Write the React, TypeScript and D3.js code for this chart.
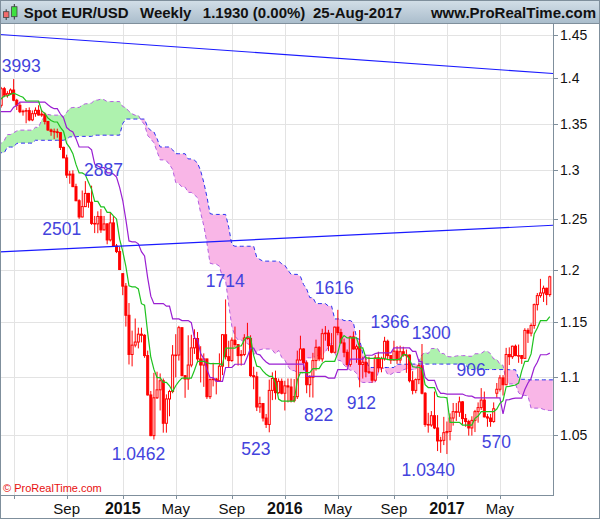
import React from 'react';
import * as d3 from 'd3';

// ---------- data ----------
const firstWeekUTC = Date.UTC(2014, 3, 7); // Monday of first weekly candle

// weekly highs / lows before the visible range (Oct-15-2012 .. Mar-31-2014), used only for the Ichimoku lines
const preHigh = [
  1.3140, 1.3070, 1.3010, 1.2880, 1.2800, 1.2990, 1.3015, 1.3125, 1.3165, 1.3310, 1.3270, 1.3300,
  1.3400, 1.3405, 1.3480, 1.3711, 1.3710, 1.3480, 1.3440, 1.3230, 1.3130, 1.3100, 1.3000, 1.3050,
  1.3000, 1.3205, 1.3245, 1.3100, 1.3245, 1.3240, 1.3000, 1.2995, 1.3105, 1.3305, 1.3390, 1.3416,
  1.3180, 1.3080, 1.3205, 1.3180, 1.3300, 1.3345, 1.3400, 1.3400, 1.3450, 1.3395, 1.3220, 1.3340,
  1.3570, 1.3570, 1.3645, 1.3590, 1.3705, 1.3832, 1.3820, 1.3525, 1.3500, 1.3575, 1.3620, 1.3710,
  1.3810, 1.3810, 1.3893, 1.3830, 1.3690, 1.3700, 1.3740, 1.3700, 1.3620, 1.3715, 1.3775, 1.3825,
  1.3915, 1.3967, 1.3920, 1.3880, 1.3810,
];
const preLow = [
  1.2950, 1.2880, 1.2800, 1.2700, 1.2661, 1.2740, 1.2875, 1.2875, 1.2935, 1.3150, 1.3180, 1.2995,
  1.3000, 1.3255, 1.3250, 1.3405, 1.3360, 1.3305, 1.3145, 1.2965, 1.2955, 1.2930, 1.2840, 1.2750,
  1.2745, 1.2955, 1.3000, 1.2950, 1.3030, 1.2955, 1.2795, 1.2840, 1.2830, 1.3000, 1.3240, 1.3100,
  1.2990, 1.2805, 1.2755, 1.3010, 1.3145, 1.3165, 1.3230, 1.3220, 1.3310, 1.3165, 1.3105, 1.3180,
  1.3260, 1.3445, 1.3470, 1.3480, 1.3480, 1.3670, 1.3440, 1.3295, 1.3365, 1.3400, 1.3540, 1.3535,
  1.3700, 1.3625, 1.3650, 1.3570, 1.3550, 1.3525, 1.3510, 1.3480, 1.3477, 1.3580, 1.3640, 1.3640,
  1.3740, 1.3825, 1.3750, 1.3705, 1.3675,
];

// visible weekly candles, Apr-07-2014 .. Aug-21-2017
const open = [
  1.3700, 1.3885, 1.3813, 1.3830, 1.3870, 1.3756, 1.3700, 1.3630, 1.3635, 1.3642,
  1.3540, 1.3608, 1.3645, 1.3593, 1.3603, 1.3523, 1.3430, 1.3415, 1.3410, 1.3402,
  1.3243, 1.3131, 1.2950, 1.2960, 1.2830, 1.2685, 1.2520, 1.2625, 1.2760, 1.2670,
  1.2455, 1.2450, 1.2525, 1.2390, 1.2450, 1.2290, 1.2460, 1.2230, 1.2175, 1.1960,
  1.1840, 1.1565, 1.1205, 1.1290, 1.1318, 1.1390, 1.1380, 1.1195, 1.0845, 1.0495,
  1.0820, 1.0890, 1.0970, 1.0600, 1.0810, 1.0875, 1.1200, 1.1200, 1.1450, 1.1015,
  1.0985, 1.1110, 1.1265, 1.1350, 1.1165, 1.1110, 1.1165, 1.0830, 1.0980, 1.0985,
  1.0970, 1.1100, 1.1385, 1.1185, 1.1150, 1.1335, 1.1295, 1.1195, 1.1205, 1.1355,
  1.1350, 1.1015, 1.1005, 1.0740, 1.0770, 1.0645, 1.0590, 1.0885, 1.0990, 1.0865,
  1.0965, 1.0860, 1.0925, 1.0915, 1.0795, 1.0830, 1.1155, 1.1255, 1.1130, 1.0935,
  1.1000, 1.1150, 1.1270, 1.1165, 1.1395, 1.1400, 1.1285, 1.1225, 1.1455, 1.1405,
  1.1310, 1.1225, 1.1115, 1.1365, 1.1255, 1.1275, 1.1115, 1.1135, 1.1050, 1.1045,
  1.0975, 1.1175, 1.1085, 1.1165, 1.1325, 1.1195, 1.1155, 1.1235, 1.1155, 1.1230,
  1.1200, 1.1200, 1.0970, 1.0885, 1.0980, 1.1105, 1.0860, 1.0590, 1.0585, 1.0665,
  1.0560, 1.0450, 1.0455, 1.0520, 1.0530, 1.0645, 1.0700, 1.0695, 1.0785, 1.0640,
  1.0615, 1.0560, 1.0625, 1.0700, 1.0735, 1.0800, 1.0655, 1.0645, 1.0615, 1.0860,
  1.0895, 1.0995, 1.0935, 1.1205, 1.1185, 1.1280, 1.1195, 1.1195, 1.1170, 1.1425,
  1.1400, 1.1470, 1.1665, 1.1750, 1.1775, 1.1820, 1.1760,
];
const high = [
  1.3905, 1.3905, 1.3857, 1.3888, 1.3993, 1.3772, 1.3733, 1.3652, 1.3670, 1.3677,
  1.3644, 1.3677, 1.3701, 1.3650, 1.3620, 1.3526, 1.3445, 1.3445, 1.3444, 1.3405,
  1.3250, 1.3165, 1.2994, 1.3000, 1.2860, 1.2700, 1.2790, 1.2887, 1.2765, 1.2840,
  1.2530, 1.2577, 1.2600, 1.2530, 1.2456, 1.2570, 1.2530, 1.2250, 1.2220, 1.1965,
  1.1870, 1.1680, 1.1423, 1.1535, 1.1450, 1.1450, 1.1390, 1.1240, 1.0880, 1.1040,
  1.1050, 1.1035, 1.0990, 1.0850, 1.0890, 1.1290, 1.1390, 1.1467, 1.1450, 1.1020,
  1.1380, 1.1385, 1.1435, 1.1410, 1.1280, 1.1215, 1.1165, 1.0990, 1.1130, 1.0995,
  1.1215, 1.1390, 1.1714, 1.1330, 1.1360, 1.1460, 1.1295, 1.1245, 1.1390, 1.1495,
  1.1380, 1.1095, 1.1050, 1.0830, 1.0775, 1.0680, 1.0980, 1.1045, 1.1060, 1.0990,
  1.0990, 1.0970, 1.0990, 1.0990, 1.0985, 1.1240, 1.1376, 1.1260, 1.1150, 1.1020,
  1.1220, 1.1340, 1.1280, 1.1440, 1.1465, 1.1430, 1.1400, 1.1460, 1.1616, 1.1440,
  1.1350, 1.1250, 1.1375, 1.1415, 1.1295, 1.1428, 1.1185, 1.1185, 1.1185, 1.1050,
  1.1200, 1.1230, 1.1185, 1.1366, 1.1340, 1.1200, 1.1330, 1.1280, 1.1285, 1.1275,
  1.1250, 1.1205, 1.1055, 1.0990, 1.1125, 1.1300, 1.0870, 1.0690, 1.0705, 1.0875,
  1.0670, 1.0485, 1.0655, 1.0615, 1.0685, 1.0775, 1.0775, 1.0830, 1.0790, 1.0680,
  1.0630, 1.0660, 1.0715, 1.0780, 1.0905, 1.0875, 1.0680, 1.0680, 1.0780, 1.0950,
  1.1020, 1.1020, 1.1265, 1.1270, 1.1285, 1.1295, 1.1295, 1.1200, 1.1445, 1.1445,
  1.1490, 1.1675, 1.1775, 1.1910, 1.1845, 1.1825, 1.1940,
];
const low = [
  1.3675, 1.3790, 1.3785, 1.3815, 1.3745, 1.3648, 1.3614, 1.3586, 1.3503, 1.3525,
  1.3526, 1.3574, 1.3588, 1.3573, 1.3490, 1.3420, 1.3367, 1.3333, 1.3347, 1.3215,
  1.3130, 1.2920, 1.2860, 1.2825, 1.2680, 1.2501, 1.2515, 1.2620, 1.2613, 1.2440,
  1.2358, 1.2357, 1.2360, 1.2385, 1.2247, 1.2275, 1.2220, 1.2160, 1.1995, 1.1754,
  1.1460, 1.1115, 1.1098, 1.1270, 1.1260, 1.1315, 1.1175, 1.0840, 1.0490, 1.0462,
  1.0810, 1.0710, 1.0520, 1.0520, 1.0660, 1.0860, 1.1000, 1.1150, 1.1010, 1.0820,
  1.0890, 1.1090, 1.1210, 1.1130, 1.0955, 1.0916, 1.0810, 1.0810, 1.0920, 1.0850,
  1.0960, 1.1020, 1.1160, 1.1085, 1.1140, 1.1270, 1.1105, 1.1105, 1.1190, 1.1340,
  1.1005, 1.0895, 1.0705, 1.0690, 1.0615, 1.0560, 1.0523, 1.0800, 1.0805, 1.0855,
  1.0850, 1.0710, 1.0780, 1.0780, 1.0780, 1.0810, 1.1150, 1.1065, 1.0860, 1.0825,
  1.0822, 1.1060, 1.1145, 1.1140, 1.1330, 1.1235, 1.1215, 1.1215, 1.1380, 1.1305,
  1.1180, 1.1095, 1.1095, 1.1250, 1.1130, 1.0912, 1.0990, 1.1000, 1.1030, 1.0952,
  1.0965, 1.1045, 1.1045, 1.1150, 1.1160, 1.1120, 1.1150, 1.1120, 1.1125, 1.1185,
  1.1040, 1.0955, 1.0850, 1.0860, 1.0940, 1.0850, 1.0570, 1.0520, 1.0570, 1.0550,
  1.0365, 1.0350, 1.0415, 1.0340, 1.0455, 1.0580, 1.0620, 1.0655, 1.0590, 1.0570,
  1.0495, 1.0495, 1.0525, 1.0605, 1.0715, 1.0650, 1.0570, 1.0570, 1.0605, 1.0820,
  1.0875, 1.0840, 1.0930, 1.1110, 1.1165, 1.1190, 1.1130, 1.1120, 1.1165, 1.1310,
  1.1370, 1.1440, 1.1610, 1.1730, 1.1690, 1.1660, 1.1740,
];
const close = [
  1.3885, 1.3813, 1.3830, 1.3870, 1.3756, 1.3700, 1.3630, 1.3635, 1.3642, 1.3540,
  1.3608, 1.3645, 1.3593, 1.3603, 1.3523, 1.3430, 1.3415, 1.3410, 1.3402, 1.3243,
  1.3131, 1.2950, 1.2960, 1.2830, 1.2685, 1.2520, 1.2625, 1.2760, 1.2670, 1.2455,
  1.2450, 1.2525, 1.2390, 1.2450, 1.2290, 1.2460, 1.2230, 1.2175, 1.2000, 1.1840,
  1.1565, 1.1205, 1.1290, 1.1318, 1.1390, 1.1380, 1.1195, 1.0845, 1.0495, 1.0820,
  1.0890, 1.0970, 1.0600, 1.0810, 1.0875, 1.1200, 1.1200, 1.1450, 1.1015, 1.0985,
  1.1110, 1.1265, 1.1350, 1.1165, 1.1110, 1.1165, 1.0830, 1.0980, 1.0985, 1.0970,
  1.1100, 1.1385, 1.1185, 1.1150, 1.1335, 1.1295, 1.1195, 1.1205, 1.1355, 1.1350,
  1.1015, 1.1005, 1.0740, 1.0770, 1.0645, 1.0590, 1.0885, 1.0990, 1.0865, 1.0965,
  1.0860, 1.0925, 1.0915, 1.0795, 1.0830, 1.1155, 1.1255, 1.1130, 1.0935, 1.1000,
  1.1150, 1.1270, 1.1165, 1.1395, 1.1400, 1.1285, 1.1225, 1.1455, 1.1405, 1.1310,
  1.1225, 1.1115, 1.1365, 1.1255, 1.1275, 1.1115, 1.1135, 1.1050, 1.1045, 1.0975,
  1.1175, 1.1085, 1.1165, 1.1325, 1.1195, 1.1155, 1.1235, 1.1155, 1.1230, 1.1200,
  1.1200, 1.0970, 1.0885, 1.0980, 1.1105, 1.0860, 1.0590, 1.0585, 1.0665, 1.0560,
  1.0450, 1.0455, 1.0520, 1.0530, 1.0645, 1.0700, 1.0695, 1.0785, 1.0640, 1.0615,
  1.0560, 1.0625, 1.0700, 1.0735, 1.0800, 1.0655, 1.0645, 1.0615, 1.0725, 1.0895,
  1.0995, 1.0935, 1.1205, 1.1185, 1.1280, 1.1195, 1.1195, 1.1170, 1.1425, 1.1400,
  1.1470, 1.1665, 1.1750, 1.1775, 1.1820, 1.1760, 1.1930,
];

const priceTicks = [1.05, 1.1, 1.15, 1.2, 1.25, 1.3, 1.35, 1.4, 1.45];
const tickMonths = [0, 4, 8];
const monthNames = ['Jan', 'Feb', 'Mar', 'Apr', 'May', 'Jun', 'Jul', 'Aug', 'Sep', 'Oct', 'Nov', 'Dec'];

// swing-point annotations: text, week position, price position
const noteText = ['3993', '2887', '2501', '1714', '1616', '1366', '1300', '906', '570', '1.0462', '523', '822', '912', '1.0340'];
const noteWeek = [6.42, 32.83, 19.45, 71.9, 106.84, 124.74, 137.99, 150.79, 158.84, 44.05, 81.69, 101.87, 115.53, 137.03];
const notePrice = [1.4077, 1.2941, 1.2339, 1.1829, 1.1765, 1.1444, 1.1346, 1.1012, 1.0388, 1.029, 1.0332, 1.0619, 1.0723, 1.0158];

// trend lines: price at left edge / right edge
const trendLeft = [1.4506, 1.2172];
const trendRight = [1.4056, 1.2436];

const headerItems = ['Spot EUR/USD', 'Weekly', '1.1930 (0.00%)', '25-Aug-2017'];

// ---------- layout ----------
const W = 600, H = 519;
const PL = 0, PR = 553, PT = 24, PB = 495;
const FONT = '"Liberation Sans", Arial, Helvetica, sans-serif';
const RED = '#ff0000';
const FRAME = '#7f8f9c';

export default function App() {
  const n = close.length;
  const weeks = d3.range(n).map((i) => new Date(firstWeekUTC + i * 7 * 864e5));
  const x = d3.scaleLinear().domain([-0.38, 177.03]).range([PL, PR]);
  const y = d3.scaleLog().domain([1.0004, 1.4629]).range([PB, PT]);

  const allH = preHigh.concat(high);
  const allL = preLow.concat(low);
  const N0 = preHigh.length;
  const mid = (g: number, len: number) => {
    const s = Math.max(0, g - len + 1);
    return ((d3.max(allH.slice(s, g + 1)) as number) + (d3.min(allL.slice(s, g + 1)) as number)) / 2;
  };

  const tenkan: { m: number; v: number }[] = [];
  const kijun: { m: number; v: number }[] = [];
  for (let m = -1; m < n; m++) {
    const g = m + N0;
    tenkan.push({ m, v: mid(g, 9) });
    kijun.push({ m, v: mid(g, 26) });
  }
  const cloud: { m: number; a: number; b: number }[] = [];
  for (let m = -1; m <= n; m++) {
    const g = m + N0 - 26;
    cloud.push({ m, a: (mid(g, 9) + mid(g, 26)) / 2, b: mid(g, 52) });
  }

  const line = d3.line<{ m: number; v: number }>().x((d) => x(d.m)).y((d) => y(d.v));
  const band = d3.area<{ m: number; a: number; b: number }>().x((d) => x(d.m)).y0((d) => y(d.b)).y1((d) => y(d.a))(cloud) || '';
  const aboveB = d3.area<{ m: number; a: number; b: number }>().x((d) => x(d.m)).y0((d) => y(d.b)).y1(0)(cloud) || '';
  const belowB = d3.area<{ m: number; a: number; b: number }>().x((d) => x(d.m)).y0((d) => y(d.b)).y1(H)(cloud) || '';
  const spanA = d3.line<{ m: number; a: number; b: number }>().x((d) => x(d.m)).y((d) => y(d.a))(cloud) || '';
  const spanB = d3.line<{ m: number; a: number; b: number }>().x((d) => x(d.m)).y((d) => y(d.b))(cloud) || '';

  const monthTicks = weeks
    .map((d, i) => ({ d, i }))
    .filter(({ d }) => tickMonths.includes(d.getUTCMonth()) && d.getUTCDate() <= 7);

  const [d0, d1] = x.domain();

  return (
    <div style={{ position: 'absolute', left: 0, top: 0 }}>
      <svg width={W} height={H} style={{ display: 'block', fontFamily: FONT }}>
        <defs>
          <linearGradient id="hdr" x1="0" y1="0" x2="0" y2="1">
            <stop offset="0" stopColor="#d3dfe8" />
            <stop offset="1" stopColor="#a9bccb" />
          </linearGradient>
          <clipPath id="plot">
            <rect x={PL} y={PT} width={PR - PL} height={PB - PT} />
          </clipPath>
          <clipPath id="clipAbove">
            <path d={aboveB} />
          </clipPath>
          <clipPath id="clipBelow">
            <path d={belowB} />
          </clipPath>
        </defs>
        <rect x={0} y={0} width={W} height={H} fill="#fff" />

        {/* header */}
        <rect x={0} y={0} width={W} height={PT} fill="url(#hdr)" />
        <g>
          <line x1={6.2} x2={6.2} y1={9.3} y2={20} stroke="#333" strokeWidth={1} />
          <rect x={3.5} y={11.7} width={5.4} height={5.8} fill="#f26b6b" stroke="#444" strokeWidth={0.8} />
          <line x1={14.3} x2={14.3} y1={4} y2={19.5} stroke="#333" strokeWidth={1} />
          <rect x={11.6} y={6.7} width={5.4} height={10} fill="#3fe03f" stroke="#444" strokeWidth={0.8} />
        </g>
        {headerItems.map((t, i) => (
          <text key={t} x={[23.7, 140, 202.8, 313][i]} y={17.5} fontSize={15} fontWeight="bold" fill="#111">
            {t}
          </text>
        ))}
        <text x={596} y={17.5} fontSize={15} fontWeight="bold" fill="#111" textAnchor="end">
          www.ProRealTime.com
        </text>

        {/* grid */}
        <g stroke="#e3e3e3" strokeWidth={1}>
          {priceTicks.map((p) => (
            <line key={p} x1={PL} x2={PR} y1={Math.round(y(p)) + 0.5} y2={Math.round(y(p)) + 0.5} />
          ))}
          {monthTicks.map(({ i }) => (
            <line key={i} x1={Math.round(x(i)) + 0.5} x2={Math.round(x(i)) + 0.5} y1={PT} y2={PB} />
          ))}
        </g>

        <g clipPath="url(#plot)">
          {/* Ichimoku cloud */}
          <path d={band} fill="#aef2ae" clipPath="url(#clipAbove)" />
          <path d={band} fill="#f9b6e7" clipPath="url(#clipBelow)" />
          <path d={spanA} fill="none" stroke="#b35ee0" strokeWidth={1} strokeDasharray="4,3" />
          <path d={spanB} fill="none" stroke="#2f2ff2" strokeWidth={1} strokeDasharray="4,3" />

          {/* candles */}
          {weeks.map((d, i) => {
            const cx = x(i);
            const yo = y(open[i]);
            const yc = y(close[i]);
            const up = close[i] >= open[i];
            const top = Math.min(yo, yc);
            const h = Math.max(Math.abs(yo - yc), 0.6);
            return (
              <g key={i}>
                <line x1={cx} x2={cx} y1={y(high[i])} y2={y(low[i])} stroke={RED} strokeWidth={1} />
                <rect x={cx - 1} y={top} width={2} height={h} fill={up ? '#fff' : RED} stroke={RED} strokeWidth={1} />
              </g>
            );
          })}

          {/* Tenkan / Kijun */}
          <path d={line(kijun) || ''} fill="none" stroke="#9a1fd2" strokeWidth={1.2} />
          <path d={line(tenkan) || ''} fill="none" stroke="#1fc21f" strokeWidth={1.2} />

          {/* trend lines */}
          {trendLeft.map((p, k) => (
            <line key={k} x1={x(d0)} y1={y(p)} x2={x(d1)} y2={y(trendRight[k])} stroke="#1a1aff" strokeWidth={1.1} />
          ))}

          {/* annotations */}
          {noteText.map((t, k) => (
            <text key={t} x={x(noteWeek[k])} y={y(notePrice[k])} fontSize={17.5} fill="#4343dd" textAnchor="middle">
              {t}
            </text>
          ))}
        </g>

        <text x={3} y={492} fontSize={11} fill="#e81010">
          © ProRealTime.com
        </text>

        {/* frame */}
        <line x1={0} x2={PR} y1={PT - 0.5} y2={PT - 0.5} stroke={FRAME} strokeWidth={1} />
        <line x1={PR + 0.5} x2={PR + 0.5} y1={PT - 1} y2={PB + 1} stroke={FRAME} strokeWidth={1} />
        <line x1={0} x2={PR + 1} y1={PB + 0.5} y2={PB + 0.5} stroke={FRAME} strokeWidth={1} />
        <line x1={PR} x2={W} y1={PT - 0.5} y2={PT - 0.5} stroke={FRAME} strokeWidth={1} />
        <rect x={0.5} y={0.5} width={W - 1} height={H - 1} fill="none" stroke={FRAME} strokeWidth={1} />

        {/* y axis */}
        {priceTicks.map((p) => (
          <g key={p}>
            <line x1={PR} x2={PR + 5} y1={Math.round(y(p)) + 0.5} y2={Math.round(y(p)) + 0.5} stroke={FRAME} />
            <text x={PR + 7} y={y(p) + 5} fontSize={14} fill="#111">
              {String(p)}
            </text>
          </g>
        ))}

        {/* x axis */}
        {monthTicks.map(({ d, i }) => {
          const isYear = d.getUTCMonth() === 0;
          const cx = x(i);
          return (
            <g key={i}>
              <line x1={Math.round(cx) + 0.5} x2={Math.round(cx) + 0.5} y1={PB} y2={PB + 4} stroke={FRAME} />
              {cx > 20 && (
                <text x={cx} y={514} fontSize={isYear ? 16 : 15} fontWeight={isYear ? 'bold' : 'normal'} textAnchor="middle" fill="#111">
                  {isYear ? String(d.getUTCFullYear()) : monthNames[d.getUTCMonth()]}
                </text>
              )}
            </g>
          );
        })}
      </svg>
    </div>
  );
}
